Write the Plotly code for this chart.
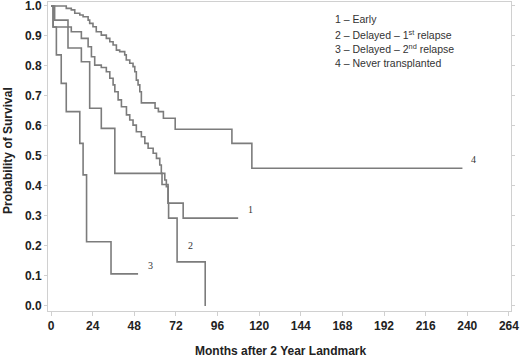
import plotly.graph_objects as go

# Kaplan-Meier step data (month of event, survival after event)
early_t = [0, 1.2, 9.8, 17.5, 22.3, 29.0, 36.8, 64.0, 67.5, 76.2, 107.9]
early_s = [1.0, 0.93, 0.86, 0.814, 0.659, 0.592, 0.442, 0.405, 0.343, 0.293, 0.293]

del1_t = [0, 2.1, 9.8, 11.7, 17.5, 21.4, 23.3, 25.2, 29.0, 31.9, 33.9, 35.8, 36.8, 38.7,
          40.6, 43.5, 45.4, 47.3, 49.2, 52.1, 54.1, 56.0, 58.9, 60.8, 62.7, 63.6, 65.6,
          66.5, 67.5, 67.8, 72.7, 88.9]
del1_s = [1.0, 0.953, 0.93, 0.914, 0.892, 0.864, 0.831, 0.803, 0.795, 0.781, 0.759, 0.737,
          0.714, 0.687, 0.664, 0.637, 0.62, 0.603, 0.581, 0.564, 0.542, 0.526, 0.509, 0.492,
          0.47, 0.442, 0.42, 0.398, 0.343, 0.293, 0.147, 0.0]

del2_t = [0, 1.2, 3.1, 5.9, 8.8, 16.6, 18.5, 20.5, 34.6, 50.2]
del2_s = [1.0, 0.93, 0.837, 0.742, 0.648, 0.542, 0.437, 0.214, 0.107, 0.107]

never_t = [0, 8.8, 11.7, 13.7, 16.6, 18.5, 21.4, 22.3, 24.2, 26.1, 29.0, 31.9, 33.9, 35.8,
           37.7, 39.6, 42.5, 43.4, 45.4, 47.3, 48.3, 49.2, 50.2, 51.2, 52.1, 60.0, 61.9,
           64.8, 71.6, 104.3, 115.8, 237.2]
never_s = [1.0, 0.992, 0.987, 0.976, 0.97, 0.964, 0.953, 0.942, 0.931, 0.914, 0.903, 0.892,
           0.881, 0.87, 0.853, 0.848, 0.837, 0.82, 0.809, 0.798, 0.781, 0.753, 0.737, 0.714,
           0.677, 0.659, 0.648, 0.626, 0.589, 0.542, 0.459, 0.459]

curve_labels = ["1", "2", "3", "4"]
label_x = [114.8, 80.6, 57.1, 243.7]
label_y = [0.32, 0.203, 0.134, 0.489]

legend_lines = ["1 – Early",
                "2 – Delayed – 1<sup>st</sup> relapse",
                "3 – Delayed – 2<sup>nd</sup> relapse",
                "4 – Never transplanted"]

x_ticks = list(range(0, 265, 24))
y_ticks = [i / 10 for i in range(11)]

fig = go.Figure()
line_style = dict(color="#7c7c7c", width=1.6, shape="hv")
for t, s in [(early_t, early_s), (del1_t, del1_s), (del2_t, del2_s), (never_t, never_s)]:
    fig.add_trace(go.Scatter(x=t, y=s, mode="lines", line=line_style,
                             showlegend=False, hoverinfo="skip"))

for lab, lx, ly in zip(curve_labels, label_x, label_y):
    fig.add_annotation(x=lx, y=ly, text=lab, showarrow=False, xref="x", yref="y",
                       font=dict(family="Liberation Serif", size=10, color="#333"))

PW, PH = 462.6, 309.0
leg_y = [19, 34, 49, 63]
for txt, py in zip(legend_lines, leg_y):
    fig.add_annotation(x=(333 - 48) / PW, y=1 - (py - 2) / PH, xref="paper", yref="paper",
                       text=txt, showarrow=False, xanchor="left", yanchor="middle",
                       font=dict(family="Liberation Sans", size=10.5, color="#333"))

axis_font = dict(family="Liberation Sans", size=12, color="#222")
# axis titles
fig.add_annotation(x=(280 - 48) / PW, y=1 - (351 - 2) / PH, xref="paper", yref="paper",
                   text="<b>Months after 2 Year Landmark</b>", showarrow=False,
                   xanchor="center", yanchor="middle", font=axis_font)
fig.add_annotation(x=(8 - 48) / PW, y=1 - (150 - 2) / PH, xref="paper", yref="paper",
                   text="<b>Probability of Survival</b>", showarrow=False, textangle=-90,
                   xanchor="center", yanchor="middle", font=axis_font)

fig.update_layout(
    width=520, height=357,
    margin=dict(l=48, r=9, t=2, b=46, autoexpand=False),
    paper_bgcolor="white", plot_bgcolor="white",
    xaxis=dict(range=[-1.73, 265.2], tickvals=x_ticks,
               ticktext=[f"<b>{v}</b>" for v in x_ticks], automargin=False,
               ticklabeloverflow="allow",
               showgrid=False, zeroline=False, showline=True, linecolor="#d0d0d0",
               linewidth=1, mirror=True, ticks="outside", ticklen=4, tickcolor="#d0d0d0",
               tickfont=axis_font),
    yaxis=dict(range=[-0.0167, 1.0133], tickvals=y_ticks,
               ticktext=[f"<b>{v:.1f}</b>" for v in y_ticks], automargin=False,
               ticklabeloverflow="allow",
               showgrid=False, zeroline=False, showline=True, linecolor="#d0d0d0",
               linewidth=1, mirror="ticks", ticks="outside", ticklen=3, tickcolor="#d0d0d0",
               tickfont=axis_font),
)

fig.write_html("out.html", config={"displayModeBar": False},
               post_script="document.body.style.margin='0';document.body.style.overflow='hidden';")
